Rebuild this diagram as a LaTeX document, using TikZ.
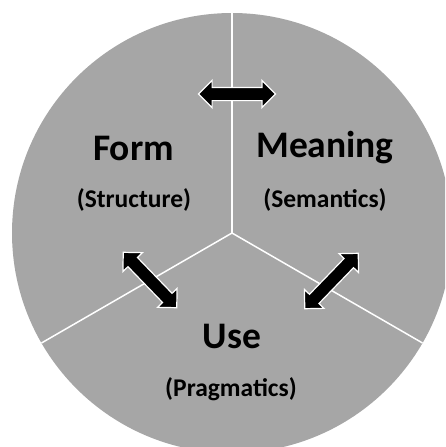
\documentclass[tikz,border=0pt]{standalone}
\usepackage{fontspec}
\setmainfont{Carlito}
\usetikzlibrary{shapes.arrows, calc}
\definecolor{disc}{RGB}{166,166,166}

\begin{document}
\begin{tikzpicture}
	[%
	x=1pt, y=-1pt,%
	title/.style	={font=\bfseries\fontsize{37.5}{42}\selectfont,	anchor=base,	inner sep=0pt},%
	subtitle/.style	={font=\bfseries\fontsize{25.5}{30}\selectfont,	anchor=base,	inner sep=0pt},%
	spoke/.style	={draw=white,	line width=1.5pt},%
	link/.style		={double arrow,	fill=black,	draw=white,	line width=1.2pt,	inner xsep=0pt,	inner ysep=6pt,	text height=0pt,	text depth=0pt,	double arrow head extend=7pt,	double arrow tip angle=90,	minimum width=26pt,	minimum height=77pt},%
	]

	\newcommand\cx{232}
	\newcommand\cy{233}
	\newcommand\rad{220pt}

	% frame
	\useasboundingbox (0,0) rectangle (445,447);
	\clip (0,0) rectangle (445,447);

	% disc
	\fill [disc] (\cx,\cy) circle (\rad);

	% spokes
	\coordinate (ctr) at (\cx,\cy);
	\foreach \a in {90,210,330} \coordinate (rim\a) at ($(ctr)+(\a:\rad)$);
	\foreach \a in {90,210,330} \draw [spoke] (ctr) -- (rim\a);

	% labels
	\node (form)	at (133.5,160) [title] {Form};
	\node (meaning)	at (325,157) [title] {Meaning};
	\node (use)		at (232,348) [title] {Use};

	\node (formsub)		at (134,207) [subtitle] {(Structure)};
	\node (meaningsub)	at (325,207) [subtitle] {(Semantics)};
	\node (usesub)		at (231,396) [subtitle] {(Pragmatics)};

	% block arrows
	\node (fm) at (237,94)	[link] {};
	\node (fu) at (150,280)	[link, rotate=-46] {};
	\node (mu) at (331.5,281)	[link, rotate=46] {};

\end{tikzpicture}
\end{document}
